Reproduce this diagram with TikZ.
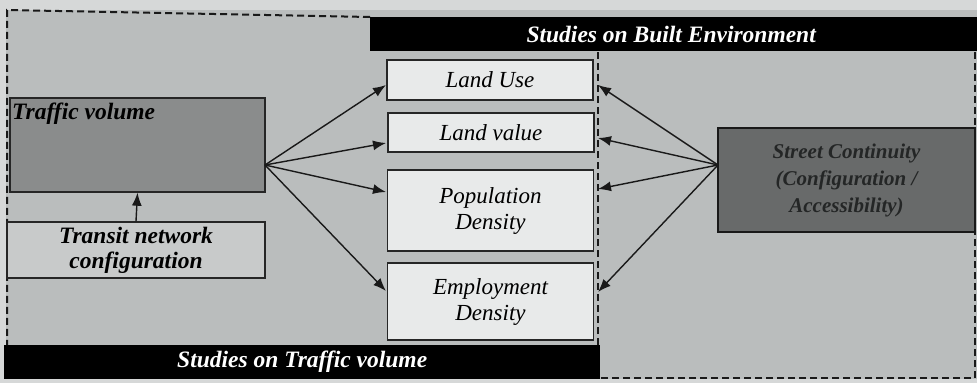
\documentclass[tikz,border=0pt]{standalone}
\usepackage{fontspec}
\setmainfont{Liberation Serif}
\usetikzlibrary{arrows.meta,calc}
\definecolor{pagebg}{RGB}{214,216,216}
\definecolor{panel}{RGB}{186,189,189}
\definecolor{tvfill}{RGB}{138,140,140}
\definecolor{scfill}{RGB}{104,106,106}
\definecolor{boxfill}{RGB}{232,234,234}
\definecolor{trfill}{RGB}{200,202,202}
\definecolor{sctext}{RGB}{36,38,38}
\tikzset{
  every node/.style={font=\fontsize{23}{26}\selectfont\itshape},
  factor/.style={draw=black!85, line width=1.4pt, fill=boxfill, minimum width=206pt, align=center, inner sep=0pt},
  bar/.style={fill=black, draw=none, inner sep=0pt, text=white, font=\fontsize{23.5}{26}\selectfont\bfseries\itshape},
  link/.style={line width=1.4pt, draw=black!90, -{Latex[length=13pt,width=10pt]}},
  border/.style={dash pattern=on 7pt off 4pt, line width=2pt, draw=black!90}
}
\begin{document}
\begin{tikzpicture}[x=1pt,y=-1pt]
  \useasboundingbox (0,0) rectangle (977,383);
  % page and panels
  \fill[pagebg] (0,0) rectangle (977,383);
  \fill[panel] (6,10) rectangle (977,379);
  % headline bars
  \node[bar, minimum width=607pt, minimum height=34pt, anchor=north west] (beBar) at (370,17) {\hspace*{-5pt}Studies on Built Environment};
  \node[bar, minimum width=596pt, minimum height=34pt, anchor=south west] (tvBar) at (4,379) {Studies on Traffic volume};
  % dashed study boundaries
  \draw[border] (beBar.north west) -- (7,10) -- (7,345);
  \draw[border] (598,52) -- (598,345);
  \draw[border] (975,52) -- (975,378) -- (600,378);
  % traffic side
  \node[draw=black!85, line width=1.4pt, fill=tvfill, minimum width=255pt, minimum height=94pt] (tv) at (137.5,145) {};
  \node[anchor=north west, inner sep=0pt, font=\fontsize{23.5}{26}\selectfont\bfseries\itshape] (tvLabel) at (12,103) {Traffic volume};
  \node[draw=black!85, line width=1.4pt, fill=trfill, minimum width=258pt, minimum height=56pt, align=center, inner sep=0pt, font=\fontsize{23.5}{25}\selectfont\bfseries\itshape] (tr) at (136,250) {Transit network\\configuration};
  \draw[link] (tr.north) -- (tv.south);
  % built environment factors
  \node[factor, minimum height=40pt] (lu) at (490,80) {Land Use};
  \node[factor, minimum height=39pt] (lv) at (491,132.5) {Land value};
  \node[factor, minimum height=81pt] (pd) at (490.5,210.5) {Population\\Density};
  \node[factor, minimum height=77pt] (ed) at (490.5,301.5) {Employment\\Density};
  % street continuity
  \node[draw=black!90, line width=1.4pt, fill=scfill, minimum width=257pt, minimum height=104pt, align=center, inner sep=0pt, text=sctext, font=\fontsize{21}{27}\selectfont\bfseries\itshape] (sc) at (846.5,180) {Street Continuity\\(Configuration /\\Accessibility)};
  % connector end points
  \coordinate (tvOut) at (265,165);
  \coordinate (scIn) at (718,165);
  \coordinate (luIn) at (386,85);
  \coordinate (lvIn) at (386,143);
  \coordinate (pdIn) at (386,192);
  \coordinate (edIn) at (386,291);
  \coordinate (luR) at (598,85);
  \coordinate (lvR) at (598,138);
  \coordinate (pdR) at (598,189);
  \coordinate (edR) at (598,292);
  \foreach \t in {luIn,lvIn,pdIn,edIn} \draw[link] (tvOut) -- (\t);
  \foreach \t in {luR,lvR,pdR,edR} \draw[link] (scIn) -- (\t);
\end{tikzpicture}
\end{document}
